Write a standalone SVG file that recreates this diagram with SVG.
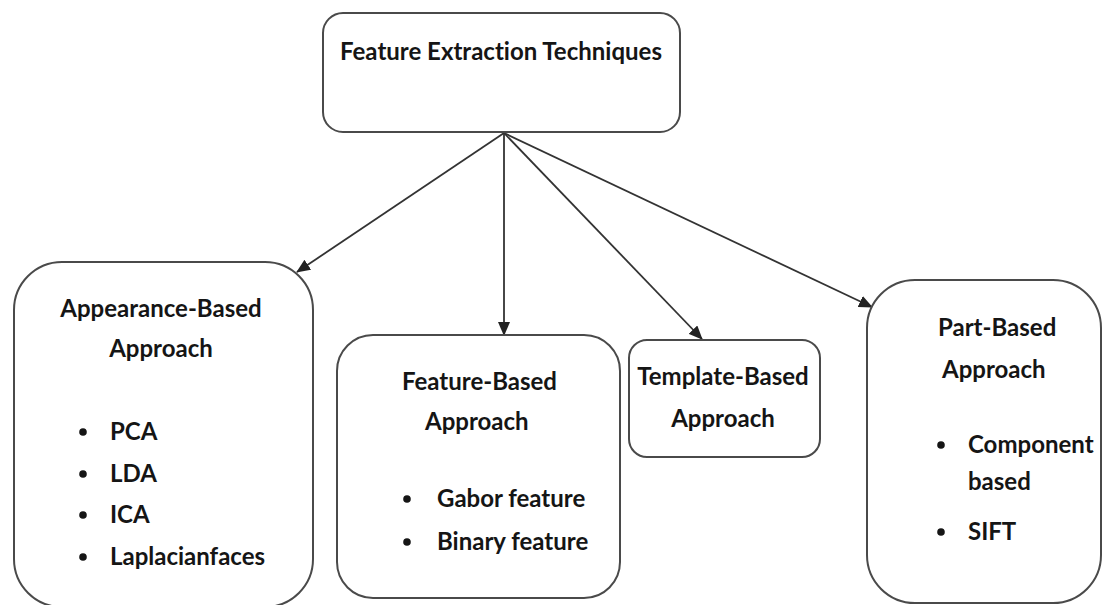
<svg xmlns="http://www.w3.org/2000/svg" width="1112" height="605" viewBox="0 0 1112 605">
  <defs>
    <style>
      .box { fill: #ffffff; stroke: #4a4a4a; stroke-width: 2; }
      .link { fill: none; stroke: #333333; stroke-width: 1.8; }
      text { font-family: Lato, "Open Sans", "Liberation Sans", sans-serif; font-weight: 700; font-size: 24px; fill: #151515; font-variant-ligatures: none; }
      .c { text-anchor: middle; }
      .dot { fill: #151515; }
    </style>
    <marker id="arrow" markerUnits="userSpaceOnUse" markerWidth="14" markerHeight="12" refX="13" refY="6" orient="auto">
      <path d="M0,0 L14,6 L0,12 z" fill="#222222"/>
    </marker>
  </defs>

  <rect width="1112" height="605" fill="#ffffff"/>

  <!-- connectors from the root node -->
  <g id="connectors">
    <line class="link" x1="504" y1="133" x2="297" y2="272" marker-end="url(#arrow)"/>
    <line class="link" x1="504" y1="133" x2="504" y2="335" marker-end="url(#arrow)"/>
    <line class="link" x1="504" y1="133" x2="702" y2="339" marker-end="url(#arrow)"/>
    <line class="link" x1="504" y1="133" x2="872" y2="307" marker-end="url(#arrow)"/>
  </g>

  <!-- root node -->
  <g id="root">
    <rect class="box" x="323" y="13" width="357" height="119" rx="20"/>
    <text class="c" x="501" y="60">Feature Extraction Techniques</text>
  </g>

  <!-- appearance-based -->
  <g id="appearance">
    <rect class="box" x="14" y="262" width="299" height="345" rx="48"/>
    <text class="c" x="161" y="317">Appearance-Based</text>
    <text class="c" x="161" y="357">Approach</text>
    <circle class="dot" cx="83" cy="432" r="3.8"/>
    <text x="110" y="440">PCA</text>
    <circle class="dot" cx="83" cy="474" r="3.8"/>
    <text x="110" y="482">LDA</text>
    <circle class="dot" cx="83" cy="515" r="3.8"/>
    <text x="110" y="523">ICA</text>
    <circle class="dot" cx="83" cy="557" r="3.8"/>
    <text x="110" y="565">Laplacianfaces</text>
  </g>

  <!-- feature-based -->
  <g id="feature">
    <rect class="box" x="337" y="335" width="283" height="263" rx="36"/>
    <text x="402" y="390">Feature-Based</text>
    <text x="425" y="430">Approach</text>
    <circle class="dot" cx="407" cy="499" r="3.8"/>
    <text x="437" y="507">Gabor feature</text>
    <circle class="dot" cx="407" cy="542" r="3.8"/>
    <text x="437" y="550">Binary feature</text>
  </g>

  <!-- template-based -->
  <g id="template">
    <rect class="box" x="629" y="340" width="191" height="117" rx="18"/>
    <text class="c" x="723" y="385">Template-Based</text>
    <text class="c" x="723" y="427">Approach</text>
  </g>

  <!-- part-based -->
  <g id="part">
    <rect class="box" x="867" y="280" width="234" height="323" rx="48"/>
    <text x="938" y="336">Part-Based</text>
    <text x="942" y="378">Approach</text>
    <circle class="dot" cx="941" cy="445" r="3.8"/>
    <text x="968" y="453">Component</text>
    <text x="968" y="490">based</text>
    <circle class="dot" cx="941" cy="532" r="3.8"/>
    <text x="968" y="540">SIFT</text>
  </g>
</svg>
